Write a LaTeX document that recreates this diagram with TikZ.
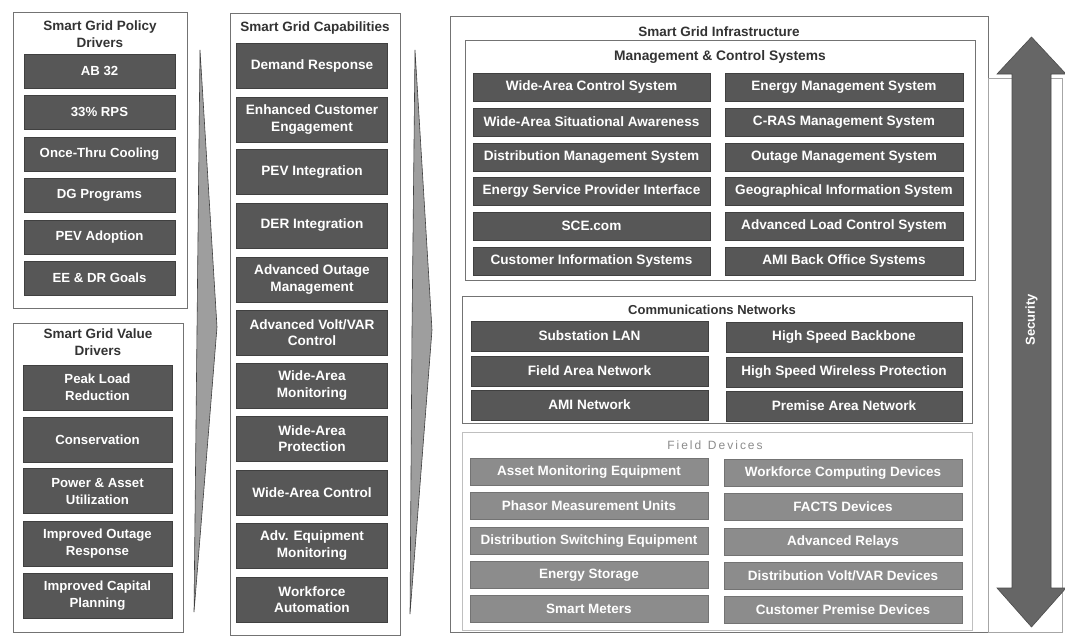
\documentclass[tikz,border=0pt]{standalone}
\usepackage{fontspec}
\setmainfont{Liberation Sans}
\begin{document}
\begin{tikzpicture}[x=1pt,y=-1pt,
  frame/.style={draw=black!55,line width=0.6pt},
  dbox/.style={fill=black!66,draw=black!75,line width=0.3pt,text=white,font=\bfseries\fontsize{13.6}{16.5}\selectfont,align=center,inner sep=0pt},
  fieldbox/.style={fill=black!45,draw=black!55,line width=0.3pt,text=white,font=\bfseries\fontsize{13.5}{16}\selectfont,align=center,inner sep=0pt},
  ttl/.style={text=black!80,font=\bfseries\fontsize{13.5}{16.5}\selectfont,align=center,inner sep=0pt},
  chev/.style={fill=black!38,draw=black!75,line width=0.6pt},
  polbox/.style={dbox,font=\bfseries\fontsize{13.2}{16}\selectfont,minimum width=151pt,minimum height=34pt},
  valbox/.style={dbox,font=\bfseries\fontsize{13.2}{17}\selectfont,minimum width=149pt,minimum height=45pt},
  capbox/.style={dbox,font=\bfseries\fontsize{13.6}{16.5}\selectfont,minimum width=151pt,minimum height=45pt},
  mgl/.style={dbox,minimum width=237pt,minimum height=28pt},
  mgr/.style={dbox,minimum width=238pt,minimum height=28pt},
  cml/.style={dbox,minimum width=237pt,minimum height=30pt},
  cmr/.style={dbox,minimum width=236pt,minimum height=30pt},
  fdl/.style={fieldbox,minimum width=238pt,minimum height=27pt},
  fdr/.style={fieldbox,minimum width=238pt,minimum height=27pt}]
\useasboundingbox (0,0) rectangle (1065,637);
\fill[white] (0,0) rectangle (1065,637);

% ---------- chevrons between columns ----------
\path[chev] (200,50) -- (217,327) -- (194,612) -- (197,330) -- cycle;
\path[chev] (415,50) -- (432,330) -- (410,614) -- (412,330) -- cycle;

% ---------- Policy drivers ----------
\draw[frame] (13,12) rectangle (187,308);
\node[ttl] (poltitle) at (100,34) {Smart Grid Policy\\Drivers};
\node[polbox] (p1) at (99.5,71) {AB 32};
\node[polbox] (p2) at (99.5,112) {33\% RPS};
\node[polbox] (p3) at (99.5,154) {Once-Thru Cooling};
\node[polbox] (p4) at (99.5,195) {DG Programs};
\node[polbox] (p5) at (99.5,237) {PEV Adoption};
\node[polbox] (p6) at (99.5,278) {EE \& DR Goals};

% ---------- Value drivers ----------
\draw[frame] (13,323) rectangle (183,632);
\node[ttl] (valtitle) at (98,342) {Smart Grid Value\\Drivers};
\node[valbox] (v1) at (97.5,387.5) {Peak Load\\Reduction};
\node[valbox] (v2) at (97.5,439.5) {Conservation};
\node[valbox] (v3) at (97.5,491) {Power \& Asset\\Utilization};
\node[valbox] (v4) at (97.5,544) {Improved Outage\\Response};
\node[valbox] (v5) at (97.5,595.5) {Improved Capital\\Planning};

% ---------- Capabilities ----------
\draw[frame] (230,13) rectangle (400,635);
\node[ttl] (captitle) at (315,28) {Smart Grid Capabilities};
\node[capbox] (c1) at (312,65.5) {Demand Response};
\node[capbox] (c2) at (312,119.5) {Enhanced Customer\\Engagement};
\node[capbox] (c3) at (312,172) {PEV Integration};
\node[capbox] (c4) at (312,225.5) {DER Integration};
\node[capbox] (c5) at (312,279.5) {Advanced Outage\\Management};
\node[capbox] (c6) at (312,332.5) {Advanced Volt/VAR\\Control};
\node[capbox] (c7) at (312,385.5) {Wide-Area\\Monitoring};
\node[capbox] (c8) at (312,438.5) {Wide-Area\\Protection};
\node[capbox] (c9) at (312,492.5) {Wide-Area Control};
\node[capbox] (c10) at (312,545.5) {Adv. Equipment\\Monitoring};
\node[capbox] (c11) at (312,599.5) {Workforce\\Automation};

% ---------- Infrastructure ----------
\draw[frame] (450,16) rectangle (988,632);
\node[ttl] (inftitle) at (719,32) {Smart Grid Infrastructure};

% Management & Control Systems
\draw[frame] (465,40) rectangle (975,280);
\node[ttl,font=\bfseries\fontsize{13.8}{16}\selectfont] (mgtitle) at (720,57) {Management \& Control Systems};
\node[mgl] (m1) at (591.5,87) {Wide-Area Control System};
\node[mgl] (m2) at (591.5,122) {Wide-Area Situational Awareness};
\node[mgl] (m3) at (591.5,157) {Distribution Management System};
\node[mgl] (m4) at (591.5,191.5) {Energy Service Provider Interface};
\node[mgl] (m5) at (591.5,226) {SCE.com};
\node[mgl] (m6) at (591.5,261) {Customer Information Systems};
\node[mgr] (n1) at (844,87) {Energy Management System};
\node[mgr] (n2) at (844,122) {C-RAS Management System};
\node[mgr] (n3) at (844,157) {Outage Management System};
\node[mgr] (n4) at (844,191.5) {Geographical Information System};
\node[mgr] (n5) at (844,226) {Advanced Load Control System};
\node[mgr] (n6) at (844,261) {AMI Back Office Systems};

% Communications Networks
\draw[frame] (462,296) rectangle (972,423);
\node[ttl,font=\bfseries\fontsize{13}{15}\selectfont] (cmtitle) at (712,310) {Communications Networks};
\node[cml] (k1) at (589.5,336) {Substation LAN};
\node[cml] (k2) at (589.5,371) {Field Area Network};
\node[cml] (k3) at (589.5,405) {AMI Network};
\node[cmr] (l1) at (844,337) {High Speed Backbone};
\node[cmr] (l2) at (844,372) {High Speed Wireless Protection};
\node[cmr] (l3) at (844,406) {Premise Area Network};

% Field Devices
\draw[draw=black!25,line width=0.6pt] (462,432) rectangle (972,630);
\node[text=black!45,font=\fontsize{12}{14}\selectfont,inner sep=0pt] (fdtitle) at (715,445) {F\,i\,e\,l\,d\ \ D\,e\,v\,i\,c\,e\,s};
\node[fdl] (f1) at (589,472) {Asset Monitoring Equipment};
\node[fdl] (f2) at (589,506) {Phasor Measurement Units};
\node[fdl] (f3) at (589,541) {Distribution Switching Equipment};
\node[fdl] (f4) at (589,575) {Energy Storage};
\node[fdl] (f5) at (589,609) {Smart Meters};
\node[fdr] (g1) at (843,473) {Workforce Computing Devices};
\node[fdr] (g2) at (843,507) {FACTS Devices};
\node[fdr] (g3) at (843,542) {Advanced Relays};
\node[fdr] (g4) at (843,576) {Distribution Volt/VAR Devices};
\node[fdr] (g5) at (843,610) {Customer Premise Devices};

% ---------- Security arrow ----------
\draw[draw=black!35,line width=0.5pt] (988,78) rectangle (1062,632);
\path[fill=black!60,draw=black!70,line width=0.6pt]
  (1031.5,37) -- (1066,74) -- (1051,74) -- (1051,588) -- (1066,588)
  -- (1031.5,627) -- (997,588) -- (1012,588) -- (1012,74) -- (997,74) -- cycle;
\node[rotate=90,text=white,font=\bfseries\fontsize{13}{15}\selectfont,inner sep=0pt] (sec) at (1031.5,320) {Security};
\end{tikzpicture}
\end{document}
